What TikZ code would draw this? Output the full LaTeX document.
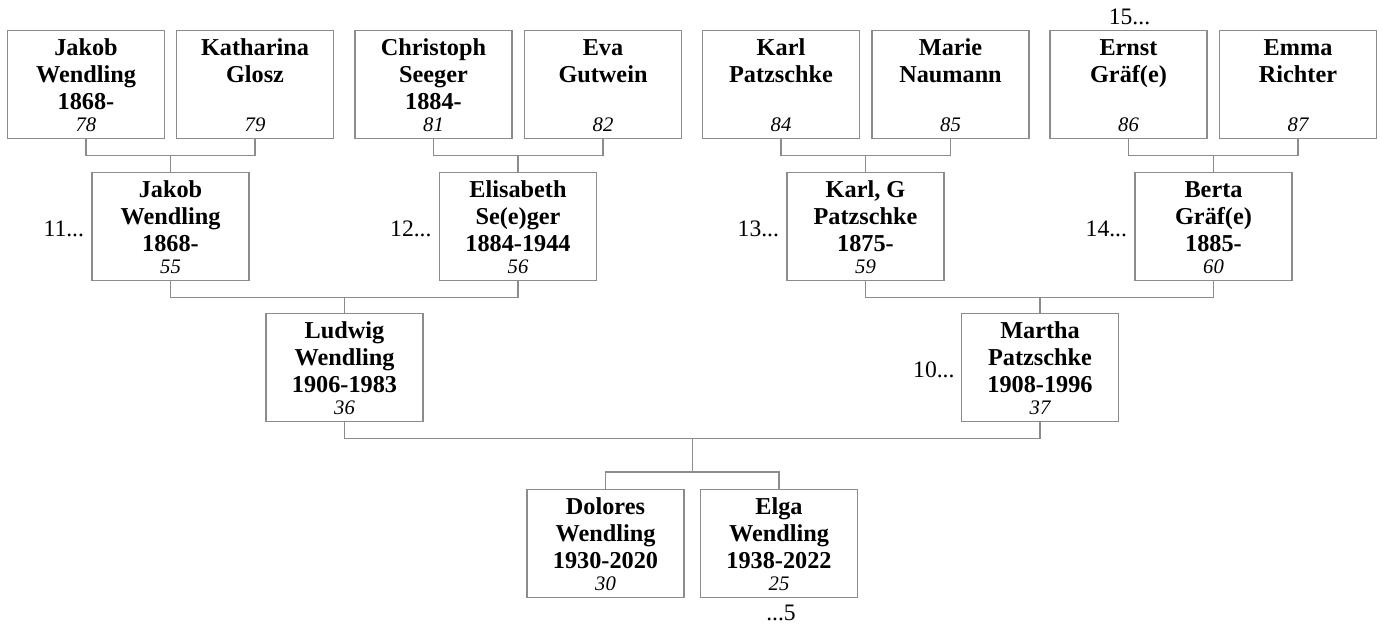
\documentclass[tikz,border=0pt]{standalone}
\usepackage{fontspec}
\setmainfont{Liberation Serif}
\usetikzlibrary{calc}
\definecolor{linegray}{RGB}{140,140,140}
\newcommand{\personbox}[2]{\parbox[t][81pt][t]{117.75pt}{\lineskiplimit=-20pt\centering\fontsize{18.2pt}{20.25pt}\selectfont\bfseries\rule{0pt}{18.4pt}#1\par\vfill{\fontsize{15.5pt}{14pt}\selectfont\mdseries\itshape #2\par}\vspace{5.4pt}}}
\tikzset{
  person/.style={draw=linegray, line width=1.1pt, inner sep=0pt, fill=white},
  conn/.style={draw=linegray, line width=1.1pt},
  side/.style={font=\fontsize{17.7pt}{20pt}\selectfont, inner sep=0pt, text=black}
}
\begin{document}
\begin{tikzpicture}[x=0.75pt,y=-0.75pt]
\useasboundingbox (0,0) rectangle (1382,625);
% row 1
\node[person] (a1) at (86,84.5) {\personbox{Jakob\\Wendling\\1868-}{78}};
\node[person] (a2) at (255,84.5) {\personbox{Katharina\\Glosz}{79}};
\node[person] (a3) at (433.5,84.5) {\personbox{Christoph\\Seeger\\1884-}{81}};
\node[person] (a4) at (603,84.5) {\personbox{Eva\\Gutwein}{82}};
\node[person] (a5) at (781,84.5) {\personbox{Karl\\Patzschke}{84}};
\node[person] (a6) at (950.5,84.5) {\personbox{Marie\\Naumann}{85}};
\node[person] (a7) at (1128.5,84.5) {\personbox{Ernst\\Gräf(e)}{86}};
\node[person] (a8) at (1298,84.5) {\personbox{Emma\\Richter}{87}};
% row 2
\node[person] (b1) at (170.5,226.5) {\personbox{Jakob\\Wendling\\1868-}{55}};
\node[person] (b2) at (518,226.5) {\personbox{Elisabeth\\Se(e)ger\\1884-1944}{56}};
\node[person] (b3) at (865.5,226.5) {\personbox{Karl, G\\Patzschke\\1875-}{59}};
\node[person] (b4) at (1213.5,226.5) {\personbox{Berta\\Gräf(e)\\1885-}{60}};
% row 3
\node[person] (c1) at (344.5,367.5) {\personbox{Ludwig\\Wendling\\1906-1983}{36}};
\node[person] (c2) at (1040,367.5) {\personbox{Martha\\Patzschke\\1908-1996}{37}};
% row 4
\node[person] (d1) at (605.5,543.5) {\personbox{Dolores\\Wendling\\1930-2020}{30}};
\node[person] (d2) at (779,543.5) {\personbox{Elga\\Wendling\\1938-2022}{25}};
% connectors row1 -> row2
\draw[conn] (a1.south) -- ++(0,16) coordinate (m1) -| (a2.south);
\draw[conn] (b1.north) -- (b1.north |- m1);
\draw[conn] (a3.south) -- ++(0,16) coordinate (m2) -| (a4.south);
\draw[conn] (b2.north) -- (b2.north |- m2);
\draw[conn] (a5.south) -- ++(0,16) coordinate (m3) -| (a6.south);
\draw[conn] (b3.north) -- (b3.north |- m3);
\draw[conn] (a7.south) -- ++(0,16) coordinate (m4) -| (a8.south);
\draw[conn] (b4.north) -- (b4.north |- m4);
% row2 -> row3
\draw[conn] (b1.south) -- ++(0,16) coordinate (m5) -| (b2.south);
\draw[conn] (c1.north) -- (c1.north |- m5);
\draw[conn] (b3.south) -- ++(0,16) coordinate (m6) -| (b4.south);
\draw[conn] (c2.north) -- (c2.north |- m6);
% row3 -> row4
\draw[conn] (c1.south) -- ++(0,16) coordinate (m7) -| (c2.south);
\coordinate (cm) at ($(c1.south)!0.5!(c2.south)$);
\draw[conn] (d1.north) -- ++(0,-17) coordinate (sb) -| (d2.north);
\draw[conn] (cm |- m7) -- (cm |- sb);
% side labels
\node[side, anchor=base east] (l11) at ($(b1.west)+(-7,9.5)$) {11...};
\node[side, anchor=base east] (l12) at ($(b2.west)+(-7,9.5)$) {12...};
\node[side, anchor=base east] (l13) at ($(b3.west)+(-7,9.5)$) {13...};
\node[side, anchor=base east] (l14) at ($(b4.west)+(-7,9.5)$) {14...};
\node[side, anchor=base east] (l10) at ($(c2.west)+(-6,9.5)$) {10...};
\node[side, anchor=base] (l15) at ($(a7.north)+(1,-5)$) {15...};
\node[side, anchor=base] (l5) at ($(d2.south)+(2,22)$) {...5};
\end{tikzpicture}
\end{document}
